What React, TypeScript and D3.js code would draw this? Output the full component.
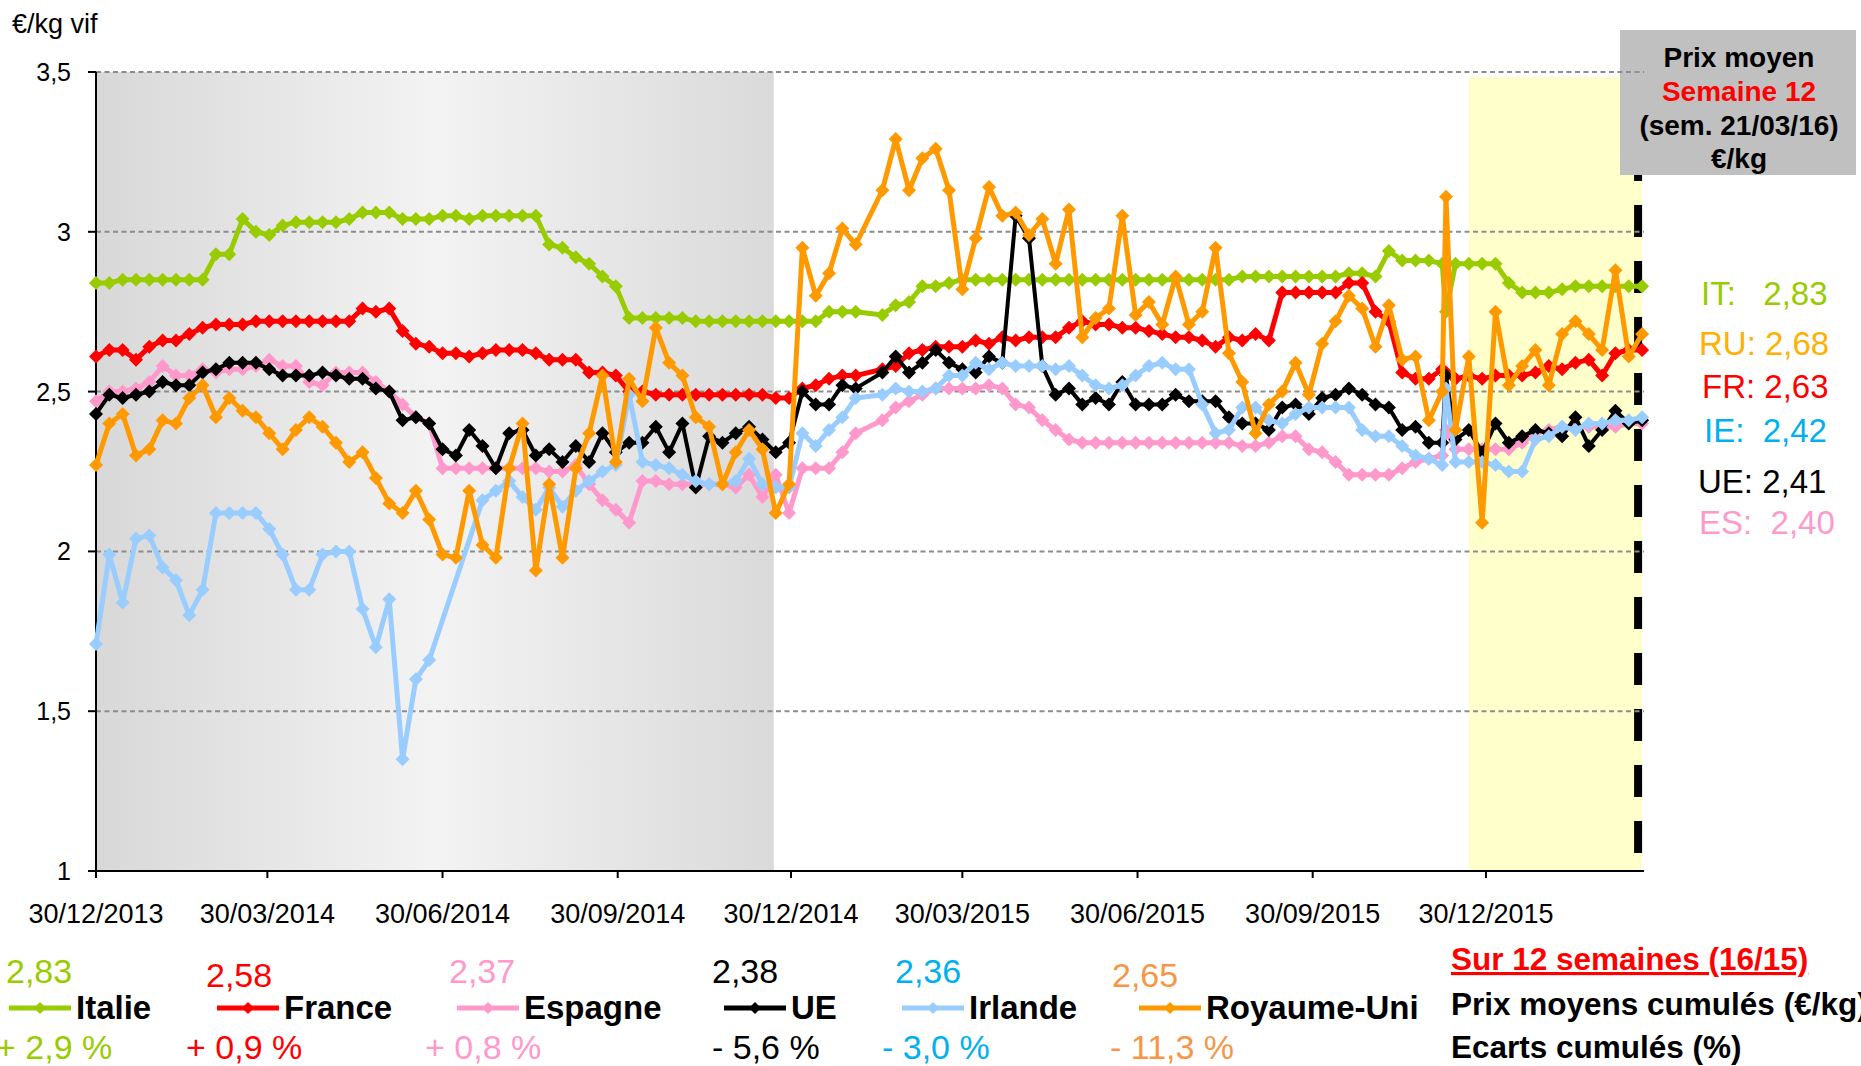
import React from 'react';
import * as d3 from 'd3';

const FONT = '"Liberation Sans", Arial, Helvetica, sans-serif';

// weekly dates: Mondays from 30/12/2013 to 21/03/2016, plus one extra report dated 09/12/2015
const firstMonday = new Date(2013, 11, 30);
const weekCount = 117;
const extraIndex = 102;
const extraDate = new Date(2015, 11, 9);
const dates: Date[] = d3.range(weekCount).map(i => d3.timeDay.offset(firstMonday, i * 7));
dates.splice(extraIndex, 0, extraDate);

// prices €/kg vif (rows: weeks 0-17, 18-34, 35-52, 53-69, 70-85, 86-101, extra, 102-116)
const italie = [
  2.84, 2.84, 2.85, 2.85, 2.85, 2.85, 2.85, 2.85, 2.85, 2.93, 2.93, 3.04, 3.0, 2.99, 3.02, 3.03, 3.03, 3.03,
  3.03, 3.04, 3.06, 3.06, 3.06, 3.04, 3.04, 3.04, 3.05, 3.05, 3.04, 3.05, 3.05, 3.05, 3.05, 3.05, 2.96,
  2.95, 2.92, 2.9, 2.86, 2.83, 2.73, 2.73, 2.73, 2.73, 2.73, 2.72, 2.72, 2.72, 2.72, 2.72, 2.72, 2.72, 2.72,
  2.72, 2.72, 2.75, 2.75, 2.75, null, 2.74, 2.77, 2.78, 2.83, 2.83, 2.84, 2.85, 2.85, 2.85, 2.85, 2.85,
  2.85, 2.85, 2.85, 2.85, 2.85, 2.85, 2.85, 2.85, 2.85, 2.85, 2.85, 2.85, 2.85, 2.85, 2.85, 2.85,
  2.86, 2.86, 2.86, 2.86, 2.86, 2.86, 2.86, 2.86, 2.87, 2.87, 2.86, 2.94, 2.91, 2.91, 2.91, 2.9,
  2.75,
  2.9, 2.9, 2.9, 2.9, 2.84, 2.81, 2.81, 2.81, 2.82, 2.83, 2.83, 2.83, 2.83, 2.83, 2.83,
];
const france = [
  2.61, 2.63, 2.63, 2.6, 2.64, 2.66, 2.66, 2.68, 2.7, 2.71, 2.71, 2.71, 2.72, 2.72, 2.72, 2.72, 2.72, 2.72,
  2.72, 2.72, 2.76, 2.75, 2.76, 2.69, 2.65, 2.64, 2.62, 2.62, 2.61, 2.62, 2.63, 2.63, 2.63, 2.62, 2.6,
  2.6, 2.6, 2.56, 2.56, 2.55, 2.5, 2.5, 2.49, 2.49, 2.49, 2.49, 2.49, 2.49, 2.49, 2.49, 2.49, 2.48, 2.48,
  2.51, 2.52, 2.54, 2.55, 2.55, null, 2.57, 2.58, 2.62, 2.63, 2.64, 2.64, 2.64, 2.66, 2.65, 2.67, 2.66,
  2.67, 2.67, 2.67, 2.7, 2.72, 2.71, 2.71, 2.7, 2.7, 2.69, 2.68, 2.67, 2.67, 2.66, 2.64, 2.67,
  2.66, 2.68, 2.66, 2.81, 2.81, 2.81, 2.81, 2.81, 2.84, 2.84, 2.75, 2.72, 2.56, 2.54, 2.54, 2.57,
  2.56,
  2.54, 2.55, 2.54, 2.55, 2.55, 2.55, 2.56, 2.58, 2.57, 2.59, 2.6, 2.55, 2.62, 2.63, 2.63,
];
const espagne = [
  2.47, 2.5, 2.5, 2.51, 2.53, 2.58, 2.55, 2.55, 2.57, 2.56, 2.57, 2.57, 2.58, 2.6, 2.58, 2.58, 2.53, 2.52,
  2.56, 2.56, 2.56, 2.53, 2.5, 2.46, 2.42, 2.4, 2.26, 2.26, 2.26, 2.26, 2.26, 2.26, 2.26, 2.26, 2.25,
  2.25, 2.27, 2.21, 2.16, 2.13, 2.09, 2.22, 2.22, 2.21, 2.21, 2.21, 2.21, 2.21, 2.2, 2.24, 2.17, 2.24, 2.12,
  2.26, 2.26, 2.26, 2.31, 2.37, null, 2.41, 2.45, 2.47, 2.49, 2.51, 2.51, 2.51, 2.51, 2.52, 2.51, 2.46,
  2.45, 2.41, 2.38, 2.35, 2.34, 2.34, 2.34, 2.34, 2.34, 2.34, 2.34, 2.34, 2.34, 2.34, 2.34, 2.34,
  2.33, 2.33, 2.34, 2.36, 2.36, 2.32, 2.31, 2.28, 2.24, 2.24, 2.24, 2.24, 2.26, 2.28, 2.29, 2.3,
  2.38,
  2.32, 2.32, 2.32, 2.32, 2.32, 2.34, 2.37, 2.38, 2.39, 2.39, 2.39, 2.39, 2.39, 2.4, 2.4,
];
const ue = [
  2.43, 2.49, 2.48, 2.49, 2.5, 2.53, 2.52, 2.52, 2.56, 2.57, 2.59, 2.59, 2.59, 2.57, 2.55, 2.55, 2.55, 2.56,
  2.55, 2.54, 2.54, 2.51, 2.5, 2.41, 2.42, 2.4, 2.32, 2.3, 2.38, 2.33, 2.26, 2.37, 2.38, 2.3, 2.32,
  2.28, 2.33, 2.28, 2.37, 2.31, 2.34, 2.34, 2.39, 2.31, 2.4, 2.2, 2.36, 2.34, 2.37, 2.39, 2.35, 2.31, 2.34,
  2.5, 2.46, 2.46, 2.52, 2.51, null, 2.56, 2.61, 2.56, 2.59, 2.63, 2.59, 2.57, 2.56, 2.61, 2.59, 3.05,
  2.98, 2.58, 2.49, 2.51, 2.46, 2.48, 2.46, 2.53, 2.46, 2.46, 2.46, 2.49, 2.47, 2.47, 2.47, 2.42,
  2.4, 2.4, 2.38, 2.45, 2.46, 2.43, 2.48, 2.49, 2.51, 2.49, 2.46, 2.45, 2.38, 2.39, 2.34, 2.34,
  2.55,
  2.35, 2.38, 2.31, 2.4, 2.34, 2.36, 2.38, 2.37, 2.36, 2.42, 2.33, 2.38, 2.44, 2.4, 2.41,
];
const irlande = [
  1.71, 1.99, 1.84, 2.04, 2.05, 1.95, 1.91, 1.8, 1.88, 2.12, 2.12, 2.12, 2.12, 2.07, 1.99, 1.88, 1.88, 1.99,
  2.0, 2.0, 1.82, 1.7, 1.85, 1.35, 1.6, 1.66, null, null, null, 2.16, 2.19, 2.22, 2.17, 2.13, 2.2,
  2.14, 2.19, 2.22, 2.25, 2.27, 2.49, 2.28, 2.27, 2.26, 2.24, 2.22, 2.21, 2.21, 2.22, 2.29, 2.21, 2.2, 2.2,
  2.37, 2.33, 2.38, 2.42, 2.48, null, 2.49, 2.51, 2.5, 2.5, 2.51, 2.55, 2.55, 2.59, 2.57, 2.59, 2.58,
  2.58, 2.58, 2.57, 2.58, 2.55, 2.52, 2.51, 2.52, 2.55, 2.58, 2.59, 2.57, 2.57, 2.46, 2.37, 2.38,
  2.45, 2.45, 2.41, 2.4, 2.43, 2.45, 2.45, 2.45, 2.45, 2.38, 2.36, 2.36, 2.33, 2.3, 2.29, 2.27,
  2.51,
  2.28, 2.28, 2.28, 2.27, 2.25, 2.25, 2.35, 2.36, 2.39, 2.38, 2.4, 2.4, 2.41, 2.41, 2.42,
];
const royaumeUni = [
  2.27, 2.4, 2.43, 2.3, 2.32, 2.41, 2.4, 2.48, 2.52, 2.42, 2.48, 2.44, 2.42, 2.37, 2.32, 2.38, 2.42, 2.39,
  2.34, 2.28, 2.31, 2.23, 2.15, 2.12, 2.19, 2.1, 1.99, 1.98, 2.19, 2.02, 1.98, 2.26, 2.4, 1.94, 2.21,
  1.98, 2.26, 2.37, 2.55, 2.28, 2.54, 2.47, 2.7, 2.59, 2.55, 2.42, 2.39, 2.21, 2.31, 2.38, 2.32, 2.12, 2.21,
  2.95, 2.8, 2.87, 3.01, 2.96, null, 3.13, 3.29, 3.13, 3.23, 3.26, 3.13, 2.82, 2.98, 3.14, 3.05, 3.06,
  2.99, 3.04, 2.9, 3.07, 2.67, 2.73, 2.76, 3.05, 2.74, 2.78, 2.71, 2.86, 2.71, 2.75, 2.95, 2.62,
  2.53, 2.37, 2.46, 2.5, 2.59, 2.49, 2.65, 2.72, 2.8, 2.76, 2.64, 2.77, 2.6, 2.61, 2.41, 2.5,
  3.11,
  2.38, 2.61, 2.09, 2.75, 2.52, 2.58, 2.63, 2.52, 2.68, 2.72, 2.68, 2.63, 2.88, 2.61, 2.68,
];

const seriesNames = ['Italie', 'France', 'Espagne', 'UE', 'Irlande', 'Royaume-Uni'];
const seriesValues = [italie, france, espagne, ue, irlande, royaumeUni];
const seriesColors = ['#99cc00', '#ff0000', '#ff99cc', '#000000', '#99ccff', '#ff9900'];

// cumulated 12 weeks figures (legend)
const cumulPrices = ['2,83', '2,58', '2,37', '2,38', '2,36', '2,65'];
const cumulDiffs = ['+ 2,9 %', '+ 0,9 %', '+ 0,8 %', '- 5,6 %', '- 3,0 %', '- 11,3 %'];
const cumulColors = ['#99cc00', '#ff0000', '#ff99cc', '#000000', '#00b0f0', '#f79646'];

// last week labels
const lastLabels = ['IT:   2,83', 'RU: 2,68', 'FR: 2,63', 'IE:  2,42', 'UE: 2,41', 'ES:  2,40'];
const lastColors = ['#99cc00', '#ffb000', '#ff0000', '#00b0f0', '#000000', '#ff99cc'];

const yTicks = [1, 1.5, 2, 2.5, 3, 3.5];
const xTickDates = ['2013-12-30', '2014-03-30', '2014-06-30', '2014-09-30', '2014-12-30', '2015-03-30', '2015-06-30', '2015-09-30', '2015-12-30'];
const xTickLabels = ['30/12/2013', '30/03/2014', '30/06/2014', '30/09/2014', '30/12/2014', '30/03/2015', '30/06/2015', '30/09/2015', '30/12/2015'];

const grayPeriod = ['2013-12-30', '2014-12-21'];
const yellowPeriod = ['2015-12-21', '2016-03-21'];
const lastWeek = '2016-03-21';

const parse = d3.timeParse('%Y-%m-%d');
const diamond = (r: number) => `M0,${-r}L${r},0L0,${r}L${-r},0Z`;

// legend layout
const legendLineX = [9, 217, 457, 724, 902, 1139];
const legendPriceX = [6, 206, 449, 712, 895, 1112];
const legendPriceY = [983, 987, 983, 983, 983, 987];
const legendDiffX = [-4, 186, 425, 712, 882, 1110];
const lastLabelY = [293, 343, 386, 430, 481, 522];
const lastLabelX = [1701, 1699, 1702, 1704, 1698, 1699];

export default function App() {
  const width = 1861;
  const height = 1066;
  const x = d3.scaleTime().domain([new Date(2013, 11, 30), new Date(2016, 2, 22)]).range([96, 1644]);
  const y = d3.scaleLinear().domain([1, 3.5]).range([871, 72]);

  type P = { d: Date; v: number };
  const line = d3.line<P>().x(p => x(p.d)).y(p => y(p.v));

  const series = seriesNames.map((name, i) => ({
    name,
    color: seriesColors[i],
    points: dates
      .map((d, k) => ({ d, v: seriesValues[i][k] as number | null }))
      .filter(p => p.v != null) as P[],
  }));

  const gx0 = x(parse(grayPeriod[0])!);
  const gx1 = x(parse(grayPeriod[1])!);
  const yx0 = x(parse(yellowPeriod[0])!);
  const yx1 = x(parse(yellowPeriod[1])!);
  const lastX = x(parse(lastWeek)!);

  return (
    <div style={{ position: 'absolute', left: 0, top: 0 }}>
      <svg width={width} height={height} style={{ display: 'block', fontFamily: FONT }}>
        <defs>
          <linearGradient id="grayBand" x1="0" x2="1" y1="0" y2="0">
            <stop offset="0" stopColor="#d8d8d8" />
            <stop offset="0.5" stopColor="#f3f3f3" />
            <stop offset="1" stopColor="#dadada" />
          </linearGradient>
        </defs>
        <rect width={width} height={height} fill="#ffffff" />

        {/* shaded periods */}
        <rect x={gx0} y={y(3.5)} width={gx1 - gx0} height={y(1) - y(3.5)} fill="url(#grayBand)" />
        <rect x={yx0} y={y(3.5) + 5} width={yx1 - yx0} height={y(1) - y(3.5) - 5} fill="#ffffcc" />

        {/* current week marker */}
        <line x1={lastX - 4} x2={lastX - 4} y1={37} y2={853} stroke="#000" strokeWidth={8} strokeDasharray="32,24" />

        {/* box */}
        <rect x={1620} y={30} width={236} height={145} fill="#c0c0c0" />
        <g fontWeight="bold" fontSize={28} textAnchor="middle">
          <text x={1739} y={67}>Prix moyen</text>
          <text x={1739} y={101} fill="#ff0000">Semaine 12</text>
          <text x={1739} y={135}>(sem. 21/03/16)</text>
          <text x={1739} y={168}>€/kg</text>
        </g>

        {/* grid */}
        {yTicks.filter(t => t > 1).map(t => (
          <line key={t} x1={96} x2={1644} y1={y(t)} y2={y(t)} stroke="#8c8c8c" strokeWidth={2} strokeDasharray="5,3.5" />
        ))}

        {/* axes */}
        <line x1={96} x2={96} y1={y(3.5)} y2={y(1)} stroke="#000" strokeWidth={2} />
        <line x1={96} x2={1644} y1={y(1)} y2={y(1)} stroke="#000" strokeWidth={2} />
        {yTicks.map(t => (
          <g key={t}>
            <line x1={88} x2={96} y1={y(t)} y2={y(t)} stroke="#000" strokeWidth={2} />
            <text x={71} y={y(t)} textAnchor="end" dominantBaseline="central" fontSize={25}>
              {String(t).replace('.', ',')}
            </text>
          </g>
        ))}
        {xTickDates.map((s, i) => {
          const px = x(parse(s)!);
          return (
            <g key={s}>
              <line x1={px} x2={px} y1={y(1)} y2={y(1) + 7} stroke="#000" strokeWidth={2} />
              <text x={px} y={914} textAnchor="middle" dominantBaseline="central" fontSize={27}>
                {xTickLabels[i]}
              </text>
            </g>
          );
        })}
        <text x={12} y={24} dominantBaseline="central" fontSize={27}>€/kg vif</text>

        {/* series */}
        {series.map(s => (
          <g key={s.name}>
            <path d={line(s.points) || ''} fill="none" stroke={s.color} strokeWidth={s.name === 'UE' ? 4 : 5} strokeLinejoin="round" />
            {s.points.map((p, k) => (
              <path key={k} d={diamond(7)} transform={`translate(${x(p.d)},${y(p.v)})`} fill={s.color} />
            ))}
          </g>
        ))}

        {/* last week labels */}
        {lastLabels.map((t, i) => (
          <text key={t} x={lastLabelX[i]} y={lastLabelY[i]} dominantBaseline="central" fontSize={33}
            fill={lastColors[i]} xmlSpace="preserve" style={{ whiteSpace: 'pre' }}>
            {t}
          </text>
        ))}

        {/* legend */}
        {seriesNames.map((name, i) => (
          <g key={name}>
            <text x={legendPriceX[i]} y={legendPriceY[i]} fontSize={34} fill={cumulColors[i]}>{cumulPrices[i]}</text>
            <line x1={legendLineX[i]} x2={legendLineX[i] + 62} y1={1008} y2={1008} stroke={seriesColors[i]} strokeWidth={5} />
            <path d={diamond(6)} transform={`translate(${legendLineX[i] + 31},1008)`} fill={seriesColors[i]} />
            <text x={legendLineX[i] + 67} y={1019} fontSize={33} fontWeight="bold">{name}</text>
            <text x={legendDiffX[i]} y={1059} fontSize={34} fill={cumulColors[i]}
              xmlSpace="preserve" style={{ whiteSpace: 'pre' }}>{cumulDiffs[i]}</text>
          </g>
        ))}

        <g fontWeight="bold" fontSize={31.5}>
          <text x={1451} y={970} fill="#ff0000" textDecoration="underline">Sur 12 semaines (16/15)</text>
          <text x={1451} y={1015}>Prix moyens cumulés (€/kg)</text>
          <text x={1451} y={1058}>Ecarts cumulés (%)</text>
        </g>
      </svg>
    </div>
  );
}
